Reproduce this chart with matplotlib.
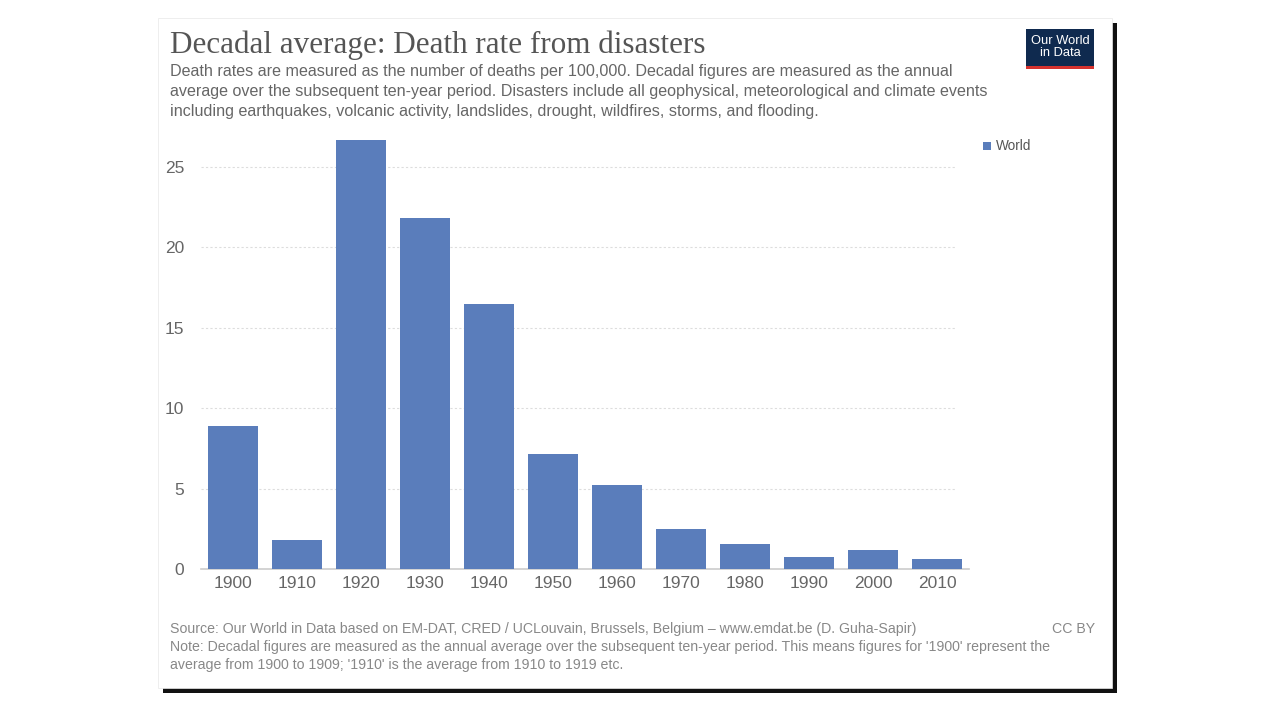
import matplotlib.pyplot as plt
from matplotlib.patches import Rectangle
import numpy as np

W, H = 1280, 720

decades = ['1900', '1910', '1920', '1930', '1940', '1950', '1960', '1970',
           '1980', '1990', '2000', '2010']
death_rate = [8.87, 1.8, 26.7, 21.8, 16.5, 7.13, 5.2, 2.48, 1.55, 0.74, 1.18, 0.62]
y_ticks = [0, 5, 10, 15, 20, 25]

bar_color = '#5a7dbb'
grey_txt = '#666666'


def px(x, y):
    # pixel coords (top-left origin) -> figure fraction
    return x / W, 1 - y / H


fig = plt.figure(figsize=(12.8, 7.2), dpi=100)
fig.patch.set_facecolor('white')

# card with dark shadow
fig.patches.append(Rectangle(px(163, 693), (1117 - 163) / W, (693 - 23) / H,
                             transform=fig.transFigure, facecolor='#111111',
                             edgecolor='none', zorder=0))
fig.patches.append(Rectangle(px(158, 688), (1112 - 158) / W, (688 - 18) / H,
                             transform=fig.transFigure, facecolor='white',
                             edgecolor='#e8e8e8', lw=0.5, zorder=1))

# title / subtitle
fig.text(*px(170, 45), 'Decadal average: Death rate from disasters',
         family='Liberation Serif', fontsize=22.4, color='#555555', va='center')
sub = ('Death rates are measured as the number of deaths per 100,000. Decadal figures are measured as the annual\n'
       'average over the subsequent ten-year period. Disasters include all geophysical, meteorological and climate events\n'
       'including earthquakes, volcanic activity, landslides, drought, wildfires, storms, and flooding.')
fig.text(*px(170, 64), sub, family='Liberation Sans', fontsize=11.6, color=grey_txt,
         va='top', linespacing=1.4)

# logo
fig.patches.append(Rectangle(px(1026, 68), 68 / W, 39 / H, transform=fig.transFigure,
                             facecolor='#0f2a4f', edgecolor='none', zorder=2))
fig.patches.append(Rectangle(px(1026, 69), 68 / W, 3 / H, transform=fig.transFigure,
                             facecolor='#d6322e', edgecolor='none', zorder=2))
fig.text(*px(1060, 47), 'Our World\nin Data', family='Liberation Sans', fontsize=9.3,
         color='white', ha='center', va='center', linespacing=0.95, zorder=3)

# main axes
l, b = px(201, 569)
r, t = px(969, 138)
ax = fig.add_axes([l, b, r - l, t - b])
ax.set_zorder(5)
ax.patch.set_alpha(0)
x = np.arange(len(decades))
ax.bar(x, death_rate, width=0.78, color=bar_color, zorder=3)
ax.set_xlim(-0.5, len(decades) - 0.5)
ax.set_ylim(0, 26.8)
ax.set_xticks(x)
ax.set_xticklabels(decades)
ax.set_yticks(y_ticks)
for v in y_ticks[1:]:
    ax.plot([-0.5, 11.3], [v, v], color='#dddddd', lw=0.8, ls=(0, (2, 2)), zorder=1)
for s in ['top', 'right', 'left']:
    ax.spines[s].set_visible(False)
ax.spines['bottom'].set_color('#cccccc')
ax.spines['bottom'].set_linewidth(1.2)
ax.tick_params(axis='x', length=0, pad=5, labelsize=12.5, labelcolor=grey_txt)
ax.tick_params(axis='y', length=0, pad=12, labelsize=12.5, labelcolor=grey_txt)
for lab in ax.get_xticklabels() + ax.get_yticklabels():
    lab.set_family('Liberation Sans')

# legend
fig.patches.append(Rectangle(px(983, 150), 8 / W, 8 / H, transform=fig.transFigure,
                             facecolor=bar_color, edgecolor='none', zorder=2))
fig.text(*px(996, 146), 'World', family='Liberation Sans', fontsize=9.8,
         color='#555555', va='center')

# footer
fig.text(*px(170, 629), 'Source: Our World in Data based on EM-DAT, CRED / UCLouvain, Brussels, Belgium \u2013 www.emdat.be (D. Guha-Sapir)',
         family='Liberation Sans', fontsize=10.2, color='#888888', va='center')
fig.text(*px(1095, 629), 'CC BY', family='Liberation Sans', fontsize=10.2,
         color='#888888', va='center', ha='right')
note = ("Note: Decadal figures are measured as the annual average over the subsequent ten-year period. This means figures for '1900' represent the\n"
        "average from 1900 to 1909; '1910' is the average from 1910 to 1919 etc.")
fig.text(*px(170, 640), note, family='Liberation Sans', fontsize=10.2, color='#888888',
         va='top', linespacing=1.35)

fig.savefig('out.png', dpi=100)
